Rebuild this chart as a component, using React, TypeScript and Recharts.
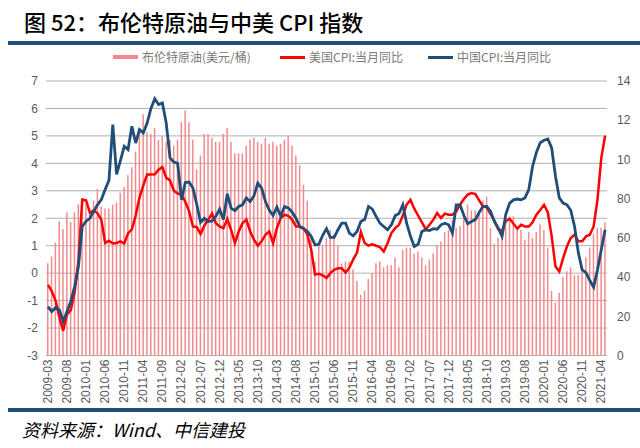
import React from 'react'
import { ComposedChart, Bar, Line, XAxis, YAxis, CartesianGrid } from 'recharts'

// monthly, 2009-03 .. 2021-05
const brent = [
  47, 50.5, 57.5, 68.5, 64.5, 73, 68, 73, 77, 75,
  77, 74, 79, 85, 76, 75, 75, 77, 78, 83, 86, 92,
  96, 104, 114, 123, 114, 113, 116, 110, 112, 109, 110, 107,
  110, 119, 125, 119, 110, 95, 102, 113, 113, 111, 109, 109,
  113, 116, 109, 103, 103, 103, 107, 110, 111, 109, 108, 111,
  108, 109, 107, 108, 110, 112, 107, 102, 97, 87, 79, 62,
  48, 58, 56, 60, 64, 62, 56, 47, 48, 48, 44, 38,
  31, 33, 39, 42, 47, 48, 45, 46, 46, 50, 45, 54,
  55, 55, 52, 53, 50, 46, 49, 52, 56, 58, 63, 64,
  69, 65, 66, 72, 77, 74, 74, 73, 79, 81, 65, 57,
  60, 64, 66, 71, 71, 64, 64, 59, 63, 60, 63, 67,
  64, 55, 33, 27, 32, 40, 43, 45, 41, 41, 43, 50,
  55, 62, 65, 65, 68,
]

const usCpi = [
  -0.43, -0.65, -1.0, -1.6, -2.1, -1.5, -1.35, -0.7, 0.45, 2.68,
  2.65, 2.2, 2.28, 2.18, 1.95, 1.1, 1.18, 1.08, 1.1, 1.16, 1.08, 1.45,
  1.6, 2.1, 2.75, 3.2, 3.59, 3.59, 3.6, 3.77, 3.87, 3.47, 3.38, 3.0,
  2.9, 2.86, 2.6, 2.25, 1.7, 1.68, 1.43, 1.73, 1.95, 2.17, 1.82, 1.7,
  1.64, 1.97, 1.58, 1.09, 1.52, 1.82, 1.95, 1.52, 1.22, 1.0, 1.16, 1.4,
  1.52, 1.09, 1.64, 2.01, 2.13, 2.09, 1.95, 1.7, 1.7, 1.64, 1.4, 0.85,
  -0.05, -0.02, -0.08, -0.18, 0.0, 0.12, 0.18, 0.18, 0.02, 0.2, 0.5, 0.75,
  1.5, 1.1, 1.0, 1.05, 1.0, 0.95, 0.79, 1.09, 1.46, 1.64, 1.76, 2.1,
  2.5, 2.67, 2.35, 2.1, 1.85, 1.6, 1.76, 1.95, 2.19, 2.01, 2.17, 2.13,
  2.13, 2.25, 2.5, 2.7, 2.86, 2.92, 2.88, 2.65, 2.43, 2.4, 2.15, 1.9,
  1.6, 1.55, 1.9, 1.98, 1.8, 1.62, 1.76, 1.7, 1.7, 1.85, 2.13, 2.3,
  2.49, 2.21, 1.35, 0.24, 0.06, 0.55, 0.97, 1.28, 1.4, 1.16, 1.16, 1.34,
  1.4, 1.7, 2.67, 4.19, 5.01,
]

const cnCpi = [
  -1.22, -1.4, -1.25, -1.34, -1.75, -1.4, -1.03, -0.49, 0.24, 1.7,
  1.89, 2.0, 2.25, 2.49, 2.68, 3.05, 3.38, 5.41, 3.6, 4.1, 4.62, 4.5,
  5.35, 4.74, 5.23, 5.11, 5.47, 6.0, 6.35, 6.14, 6.2, 5.47, 4.2, 4.05,
  4.0, 2.68, 3.3, 3.32, 3.1, 2.5, 1.85, 2.0, 1.88, 1.9, 2.07, 2.33,
  1.95, 2.89, 2.37, 2.28, 2.43, 2.49, 2.74, 2.61, 2.82, 3.28, 3.1, 2.61,
  2.3, 2.1, 2.41, 2.07, 2.43, 2.38, 2.22, 2.0, 1.7, 1.62, 1.52, 1.34,
  1.03, 1.05, 1.38, 1.62, 1.3, 1.3, 1.58, 1.82, 1.82, 1.46, 1.36, 1.52,
  1.88, 1.95, 2.43, 2.33, 2.07, 1.82, 1.7, 1.58, 1.76, 2.09, 2.17, 2.49,
  1.82, 1.34, 0.97, 1.05, 1.52, 1.58, 1.55, 1.62, 1.6, 1.76, 1.82, 1.76,
  1.46, 2.49, 2.49, 2.1, 1.8, 1.88, 1.95, 2.21, 2.43, 2.43, 2.25, 1.88,
  1.64, 1.34, 2.15, 2.55, 2.67, 2.7, 2.67, 2.74, 3.04, 3.89, 4.4, 4.75,
  4.84, 4.89, 4.56, 3.53, 2.74, 2.55, 2.49, 2.29, 1.7, 0.73, 0.12, 0.02,
  -0.27, -0.51, 0.12, 0.85, 1.58,
]

const leftTicks = [-3, -2, -1, 0, 1, 2, 3, 4, 5, 6, 7]
const rightTicks = [0, 20, 40, 60, 80, 100, 120, 140]

const months: string[] = []
for (let i = 0; i < brent.length; i++) {
  const m = 2 + i
  const y = 2009 + Math.floor(m / 12)
  months.push(`${y}-${String((m % 12) + 1).padStart(2, '0')}`)
}

const data = months.map((month, i) => ({
  month,
  brent: brent[i],
  us: usCpi[i],
  cn: cnCpi[i],
}))

const NAVY = '#1f4e79'
const PINK = '#f28a8e'
const RED = '#ff0000'
const GRAY = '#595959'
const SANS = "'Liberation Sans', Arial, sans-serif"
const CJK = "'Noto Sans CJK SC', sans-serif"

function MonthTick({ x, y, payload }: any) {
  const ty = y - 4
  return (
    <text
      x={x}
      y={ty}
      transform={`rotate(-90, ${x}, ${ty})`}
      textAnchor="end"
      dominantBaseline="central"
      fill={GRAY}
      fontSize={12}
      fontFamily={SANS}
    >
      {payload.value}
    </text>
  )
}

function LegendItem({ left, color, thick, label }: { left: number; color: string; thick: number; label: string }) {
  return (
    <>
      <div style={{ position: 'absolute', left, top: 57 - thick / 2, width: 25, height: thick, background: color }} />
      <div style={{ position: 'absolute', left: left + 29, top: 49, fontSize: 12, lineHeight: '16px', color: '#7a7a7a', fontFamily: CJK, whiteSpace: 'nowrap' }}>
        {label}
      </div>
    </>
  )
}

export default function App() {
  return (
    <div style={{ position: 'absolute', left: 0, top: 0, width: 640, height: 448, background: '#fff', overflow: 'hidden' }}>
      <div style={{ position: 'absolute', left: 24, top: 9, fontSize: 22, lineHeight: '24px', fontFamily: CJK, fontWeight: 500, color: '#000', whiteSpace: 'nowrap' }}>
        图 52：布伦特原油与中美 CPI 指数
      </div>
      <div style={{ position: 'absolute', left: 8, top: 41, width: 632, height: 3.5, background: NAVY }} />

      <LegendItem left={113} color={PINK} thick={4.5} label="布伦特原油(美元/桶)" />
      <LegendItem left={280} color={RED} thick={3} label="美国CPI:当月同比" />
      <LegendItem left={428} color={NAVY} thick={3} label="中国CPI:当月同比" />

      <div style={{ position: 'absolute', left: 0, top: 0, width: 630, height: 410, overflow: 'hidden' }}>
        <ComposedChart width={660} height={410} data={data} margin={{ top: 81, right: 3, left: 0, bottom: 0 }}>
          <CartesianGrid yAxisId="l" vertical={false} stroke="#b0b0b0" />
          <XAxis
            dataKey="month"
            interval={4}
            height={54.5}
            axisLine={false}
            tickLine={false}
            tick={<MonthTick />}
          />
          <YAxis
            yAxisId="l"
            domain={[-3, 7]}
            ticks={leftTicks}
            width={46}
            axisLine={false}
            tickLine={false}
            tick={{ fill: GRAY, fontSize: 12, fontFamily: SANS }}
          />
          <YAxis
            yAxisId="r"
            orientation="right"
            domain={[0, 140]}
            ticks={rightTicks}
            width={50}
            axisLine={false}
            tickLine={false}
            tickMargin={4}
            tick={{ fill: GRAY, fontSize: 12, fontFamily: SANS, textAnchor: 'start' }}
          />
          <Bar yAxisId="r" dataKey="brent" fill={PINK} barSize={1.5} isAnimationActive={false} />
          <Line yAxisId="l" type="linear" dataKey="us" stroke={RED} strokeWidth={2.5} dot={false} isAnimationActive={false} />
          <Line yAxisId="l" type="linear" dataKey="cn" stroke={NAVY} strokeWidth={2.8} dot={false} isAnimationActive={false} />
        </ComposedChart>
      </div>

      <div style={{ position: 'absolute', left: 8, top: 408, width: 632, height: 3.5, background: NAVY }} />
      <div style={{ position: 'absolute', left: 22, top: 418, fontSize: 18, lineHeight: '22px', fontFamily: CJK, fontStyle: 'italic', color: '#000', whiteSpace: 'nowrap' }}>
        资料来源：Wind、中信建投
      </div>
    </div>
  )
}
